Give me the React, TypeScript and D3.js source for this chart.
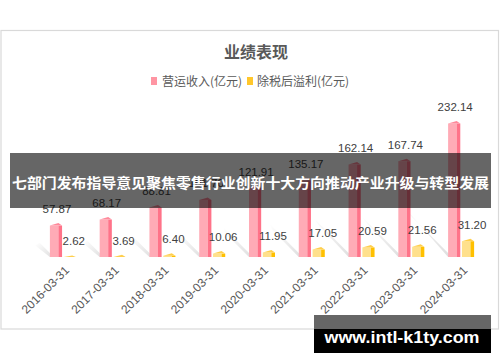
import React from "react";
import * as d3 from "d3";

const categories = ["2016-03-31","2017-03-31","2018-03-31","2019-03-31","2020-03-31","2021-03-31","2022-03-31","2023-03-31","2024-03-31"];
const revenue = [57.87, 68.17, 88.81, 101.7, 121.91, 135.17, 162.14, 167.74, 232.14];
const profit = [2.62, 3.69, 6.4, 10.06, 11.95, 17.05, 20.59, 21.56, 31.2];
const seriesNames = ["营运收入(亿元)", "除税后溢利(亿元)"];
const title = "业绩表现";
const bannerText = "七部门发布指导意见聚焦零售行业创新十大方向推动产业升级与转型发展";
const watermark = "www.intl-k1ty.com";

const W = 500, H = 362;
const base = 257;

export default function App() {
  const x = d3.scaleBand<string>().domain(categories).range([38, 486]);
  const inner = d3.scaleBand<string>().domain(["r", "p"]).range([-13, 13]).paddingInner(0.12);
  const y = d3.scaleLinear().domain([0, 232.14]).range([base, 121]);
  const bw = inner.bandwidth();
  const center = (c: string) => (x(c) as number) + x.bandwidth() / 2;

  const bar = (x0: number, top: number, light: string, dark: string, capC: string, key: string) => {
    const w = bw;
    const side = w * 0.3;
    const front = w - side;
    const peak = Math.min(2.5, base - top);
    return (
      <g key={key}>
        <rect x={x0} y={top + peak} width={front} height={base - top - peak} fill={light} />
        <rect x={x0 + front} y={top + peak} width={side} height={base - top - peak} fill={dark} />
        <path d={`M${x0},${top + peak} L${x0 + front},${top} L${x0 + w},${top + peak} Z`} fill={capC} />
      </g>
    );
  };

  return (
    <svg width={W} height={H} style={{ position: "absolute", left: 0, top: 0, background: "#fff" }}>
      <defs>
        <linearGradient id="sh" x1="1" y1="1" x2="0" y2="0">
          <stop offset="0" stopColor="#000" stopOpacity="0.13" />
          <stop offset="1" stopColor="#000" stopOpacity="0" />
        </linearGradient>
      </defs>
      <rect x={0} y={0} width={W} height={H} fill="#fff" />
      <rect x={1} y={30.5} width={497.5} height={298.5} fill="#fff" stroke="#d9d9d9" strokeWidth={1.2} />
      <text x={256} y={58} textAnchor="middle" fontFamily="'Noto Sans CJK SC'" fontWeight={700} fontSize={16} fill="#595959">{title}</text>
      {/* legend */}
      <rect x={151} y={77} width={6} height={8} fill="#ff95a3" />
      <text x={162} y={85.5} fontFamily="'Noto Sans CJK SC'" fontSize={12} fill="#595959">{seriesNames[0]}</text>
      <rect x={247} y={77} width={6} height={8} fill="#ffc72c" />
      <text x={257} y={85.5} fontFamily="'Noto Sans CJK SC'" fontSize={12} fill="#595959">{seriesNames[1]}</text>

      {/* shadows */}
      {categories.map((c, i) => {
        const x0 = center(c) + (inner("r") as number);
        const h = base - y(revenue[i]);
        const L = h * 0.42;
        return (
          <path key={"s" + c} d={`M${x0},${base} L${x0 + 4},${base} L${x0 + 4 - L},${base - L} L${x0 - 6 - L * 0.6},${base - L * 0.8} Z`} fill="url(#sh)" />
        );
      })}

      {categories.map((c, i) => bar(center(c) + (inner("r") as number), y(revenue[i]), "#ffabb6", "#ff7389", "#ff8a9b", "r" + c))}
      {categories.map((c, i) => bar(center(c) + (inner("p") as number), y(profit[i]), "#ffe08c", "#ffc000", "#ffcf4d", "p" + c))}

      {categories.map((c, i) => (
        <text key={"lr" + c} x={center(c) + (inner("r") as number) + bw / 2 + 1} y={y(revenue[i]) - 10} textAnchor="middle" fontFamily="'Liberation Sans'" fontSize={11.5} fill="#404040">{revenue[i].toFixed(2)}</text>
      ))}
      {categories.map((c, i) => (
        <text key={"lp" + c} x={center(c) + (inner("p") as number) + bw / 2 + 4} y={y(profit[i]) - 10} textAnchor="middle" fontFamily="'Liberation Sans'" fontSize={11.5} fill="#404040">{profit[i].toFixed(2)}</text>
      ))}

      {categories.map((c) => (
        <text key={"x" + c} transform={`translate(${center(c) + 7},${271}) rotate(-45)`} textAnchor="end" fontFamily="'Liberation Sans'" fontSize={12} fill="#595959">{c}</text>
      ))}

      {/* banner overlay */}
      <rect x={10} y={153} width={481} height={55} fill="#000" fillOpacity={0.6} />
      <text x={250.5} y={188} textAnchor="middle" fontFamily="'Noto Sans CJK SC'" fontWeight={700} fontSize={13.7} fill="#fff" textLength={477} lengthAdjust="spacingAndGlyphs">{bannerText}</text>

      {/* watermark */}
      <rect x={314} y={315} width={177} height={14} fill="#666" />
      <rect x={314} y={329} width={177} height={24} fill="#000" />
      <text x={402} y={343} textAnchor="middle" fontFamily="'Liberation Sans'" fontWeight={700} fontSize={17} fill="#fff" textLength={155} lengthAdjust="spacingAndGlyphs">{watermark}</text>
    </svg>
  );
}
